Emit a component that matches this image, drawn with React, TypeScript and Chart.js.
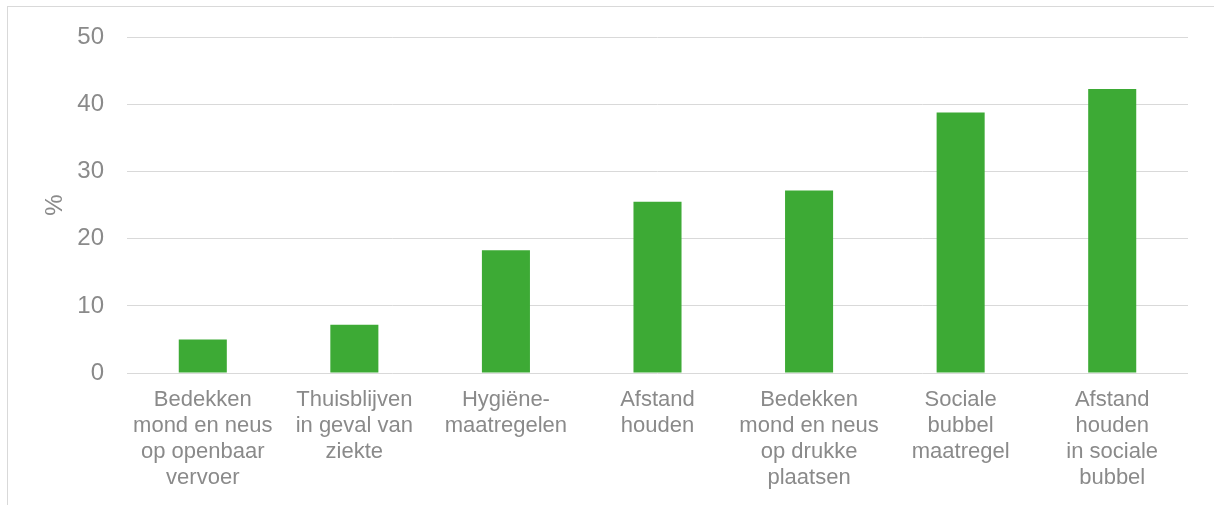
import React, { useEffect, useRef } from "react";
import { Chart, registerables } from "chart.js";

Chart.register(...registerables);

const categories: string[][] = [
  ["Bedekken", "mond en neus", "op openbaar", "vervoer"],
  ["Thuisblijven", "in geval van", "ziekte"],
  ["Hygiëne-", "maatregelen"],
  ["Afstand", "houden"],
  ["Bedekken", "mond en neus", "op drukke", "plaatsen"],
  ["Sociale", "bubbel", "maatregel"],
  ["Afstand", "houden", "in sociale", "bubbel"],
];

const values: number[] = [5.0, 7.2, 18.3, 25.5, 27.2, 38.8, 42.3];

const yTicks: number[] = [0, 10, 20, 30, 40, 50];
const yTitle = "%";

const FONT = "'Liberation Sans', Arial, sans-serif";
const TEXT = "#8A8A8A";
const GRID = "#D9D9D9";
const BAR = "#3DAA35";

export default function App() {
  const ref = useRef<HTMLCanvasElement | null>(null);

  useEffect(() => {
    if (!ref.current) return;
    const chart = new Chart(ref.current, {
      type: "bar",
      data: {
        labels: categories,
        datasets: [
          {
            data: values,
            backgroundColor: BAR,
            borderWidth: 0,
            categoryPercentage: 1,
            barPercentage: 0.317,
          },
        ],
      },
      options: {
        responsive: false,
        animation: false,
        devicePixelRatio: 1,
        layout: { padding: { left: 41, right: 26, top: 35, bottom: 0 } },
        plugins: { legend: { display: false }, tooltip: { enabled: false } },
        scales: {
          x: {
            grid: { display: false, drawTicks: false },
            border: { display: false },
            ticks: {
              color: TEXT,
              font: { family: FONT, size: 22, lineHeight: 26 / 22 },
              padding: 14,
              maxRotation: 0,
              autoSkip: false,
            },
            afterFit: (s: any) => {
              s.height = 132;
            },
          },
          y: {
            min: 0,
            max: 50,
            afterBuildTicks: (s: any) => {
              s.ticks = yTicks.map((v) => ({ value: v }));
            },
            grid: { color: GRID, lineWidth: 1, drawTicks: false },
            border: { display: false },
            ticks: {
              color: TEXT,
              font: { family: FONT, size: 24 },
              padding: 23,
            },
            title: {
              display: true,
              text: yTitle,
              color: TEXT,
              font: { family: FONT, size: 24 },
              padding: 0,
            },
            afterFit: (s: any) => {
              s.width = 86;
            },
          },
        },
      },
    });
    return () => chart.destroy();
  }, []);

  return (
    <div style={{ position: "fixed", left: 0, top: 0, width: 1214, height: 505, background: "#fff", overflow: "hidden" }}>
      <div
        style={{
          position: "absolute",
          left: 7,
          top: 6,
          width: 1400,
          height: 700,
          borderTop: `1px solid ${GRID}`,
          borderLeft: `1px solid ${GRID}`,
        }}
      />
      <canvas ref={ref} width={1214} height={505} style={{ position: "absolute", left: 0, top: 0, width: 1214, height: 505 }} />
    </div>
  );
}
